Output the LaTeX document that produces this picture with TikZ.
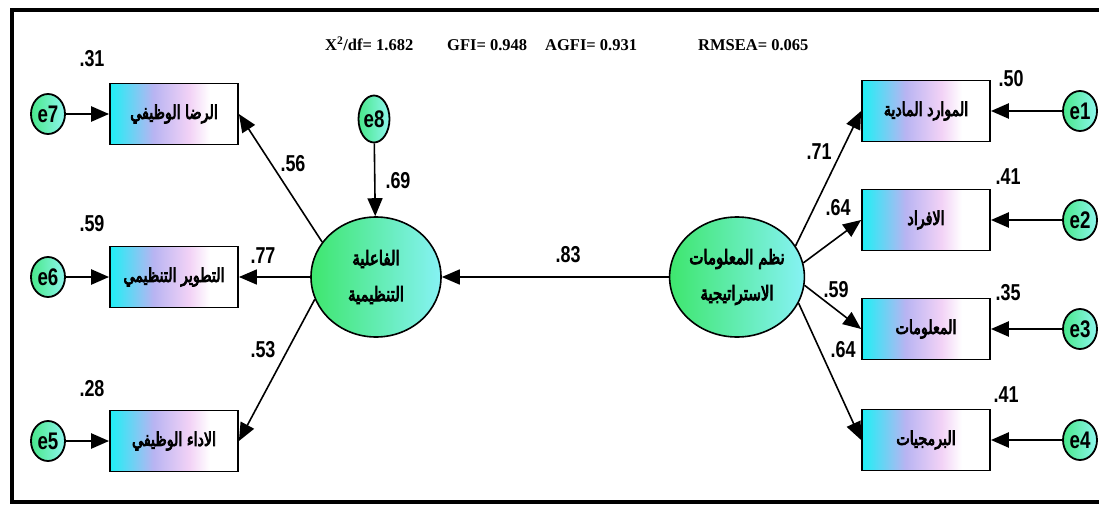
\documentclass[tikz,border=0pt]{standalone}
\usepackage{fontspec}
\usetikzlibrary{arrows.meta,shapes.geometric}
\TeXXeTstate=1
\newfontfamily\arabicfont[Script=Arabic,FakeStretch=0.75,FakeBold=4]{DejaVu Sans}
\newfontfamily\numf[FakeStretch=0.78]{Liberation Sans}
\newfontfamily\statf{Liberation Serif}
\definecolor{boxcyan}{HTML}{1EF0F5}
\definecolor{boxlav}{HTML}{B8B4F2}
\definecolor{boxpink}{HTML}{F2D2F6}
\definecolor{lgreen}{HTML}{3EE66E}
\definecolor{lcyan}{HTML}{86F2F4}
\definecolor{egreen}{HTML}{48E88A}
\definecolor{ecyan}{HTML}{8EF6EE}
\pgfdeclarehorizontalshading{boxshade}{100bp}{color(0bp)=(boxcyan); color(25bp)=(boxcyan); color(42bp)=(boxlav); color(56bp)=(boxpink); color(64bp)=(white); color(100bp)=(white)}
\tikzset{
  obs/.style={draw, line width=1.8pt, minimum width=128pt, minimum height=61pt, shading=boxshade, inner sep=0pt, font=\arabicfont\fontsize{19}{21}\selectfont},
  lat/.style={ellipse, draw, line width=1.6pt, minimum width=130pt, minimum height=120pt, inner sep=0pt, left color=lgreen, right color=lcyan, align=center, font=\arabicfont\fontsize{20}{36}\selectfont},
  err/.style={ellipse, draw, line width=1.8pt, minimum width=34pt, minimum height=40pt, inner sep=0pt, left color=egreen, right color=ecyan, font=\numf\bfseries\fontsize{24}{24}\selectfont},
  num/.style={font=\numf\bfseries\fontsize{23}{23}\selectfont, inner sep=0pt},
  stat/.style={font=\statf\bfseries\fontsize{16.5}{18}\selectfont, inner sep=0pt, anchor=base west},
  arr/.style={-{Triangle[length=18pt,width=15pt]}, line width=1.6pt},
  earr/.style={arr, line width=2.5pt}
}
\begin{document}
\begin{tikzpicture}[x=1pt,y=-1pt]
\useasboundingbox (0,0) rectangle (1099,508);
\fill[white] (0,0) rectangle (1099,508);
\draw[line width=4pt] (1099,10) -- (12,10) -- (12,502) -- (1099,502);
% stats
\node[stat] (s1) at (325,51) {X\textsuperscript{2}/df= 1.682};
\node[stat] (s2) at (447,51) {GFI= 0.948};
\node[stat] (s3) at (545,51) {AGFI= 0.931};
\node[stat] (s4) at (698,51) {RMSEA= 0.065};
% latent
\node[lat] (ll) at (376,277) {\beginR الفاعلية\endR\\\beginR التنظيمية\endR};
\node[lat] (rl) at (737,277) {\beginR نظم المعلومات\endR\\\beginR الاستراتيجية\endR};
% left boxes
\node[obs] (b7) at (174,114) {\beginR الرضا الوظيفي\endR};
\node[obs] (b6) at (174,277) {\beginR التطوير التنظيمي\endR};
\node[obs] (b5) at (174,441) {\beginR الاداء الوظيفي\endR};
% right boxes
\node[obs] (b1) at (926,111) {\beginR الموارد المادية\endR};
\node[obs] (b2) at (926,220) {\beginR الافراد\endR};
\node[obs] (b3) at (926,329) {\beginR المعلومات\endR};
\node[obs] (b4) at (926,440) {\beginR البرمجيات\endR};
% errors
\node[err] (e7) at (48,114) {e7};
\node[err] (e6) at (48,277) {e6};
\node[err] (e5) at (48,441) {e5};
\node[err] (e1) at (1080,111) {e1};
\node[err] (e2) at (1080,220) {e2};
\node[err] (e3) at (1080,329) {e3};
\node[err] (e4) at (1080,440) {e4};
\node[err, minimum width=31pt, minimum height=47pt] (e8) at (374,119) {e8};
% error arrows
\draw[earr] (e7) -- (b7);
\draw[earr] (e6) -- (b6);
\draw[earr] (e5) -- (b5);
\draw[earr] (e1) -- (b1);
\draw[earr] (e2) -- (b2);
\draw[earr] (e3) -- (b3);
\draw[earr] (e4) -- (b4);
\draw[arr] (e8) -- (ll);
% structural
\draw[arr] (rl.west) -- (ll.east);
\draw[arr] (ll.147) -- (b7.east);
\draw[arr] (ll.west) -- (b6.east);
\draw[arr] (ll.200) -- (b5.east);
\draw[arr] (rl.28) -- (b1.west);
\draw[arr] (rl.12) -- (b2.west);
\draw[arr] (rl.-7) -- (b3.west);
\draw[arr] (rl.-23) -- (b4.west);
% numbers
\node[num] (n31) at (92,59) {.31};
\node[num] (n59l) at (92,224) {.59};
\node[num] (n28) at (92,389) {.28};
\node[num] (n50) at (1011,79) {.50};
\node[num] (n41a) at (1008,177) {.41};
\node[num] (n35) at (1008,293) {.35};
\node[num] (n41b) at (1006,395) {.41};
\node[num] (n56) at (293,164) {.56};
\node[num] (n77) at (263,256) {.77};
\node[num] (n53) at (263,350) {.53};
\node[num] (n69) at (398,181) {.69};
\node[num] (n83) at (568,255) {.83};
\node[num] (n71) at (819,152) {.71};
\node[num] (n64a) at (838,208) {.64};
\node[num] (n59r) at (836,290) {.59};
\node[num] (n64b) at (843,350) {.64};
\end{tikzpicture}
\end{document}
